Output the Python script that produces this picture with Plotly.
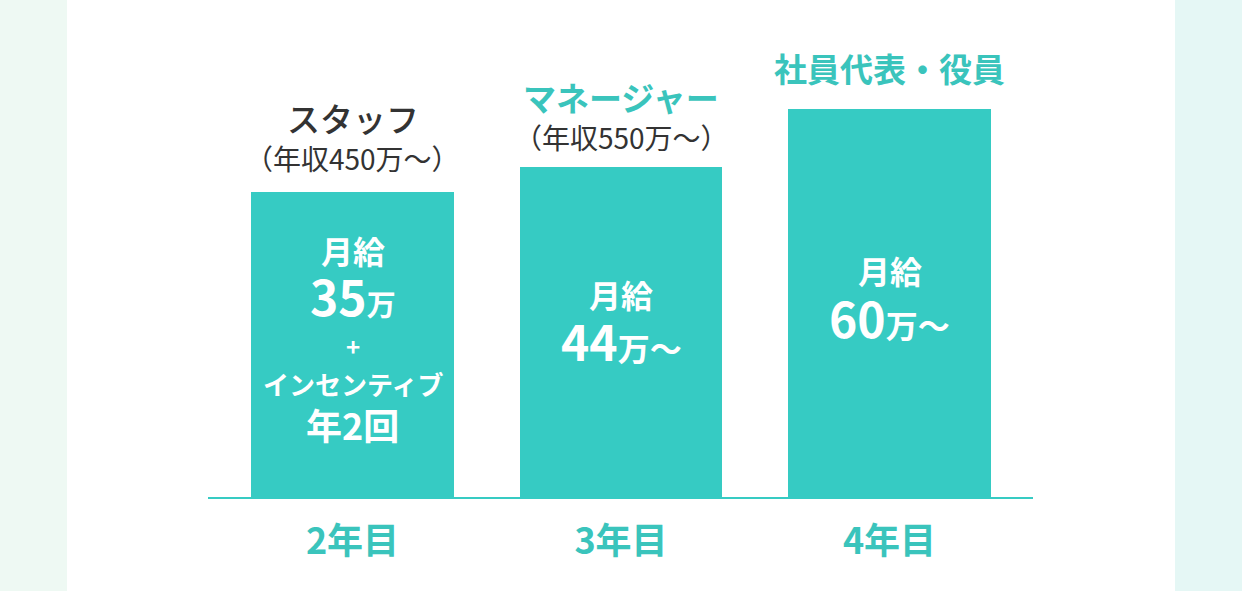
import plotly.graph_objects as go

# ---- data ----
categories = ["2年目", "3年目", "4年目"]
bar_heights = [305, 330, 388]          # relative bar height (px-scaled units)
roles = ["スタッフ", "マネージャー", "社員代表・役員"]
annual = ["（年収450万〜）", "（年収550万〜）", ""]
salary_num = ["35", "44", "60"]
salary_suffix = ["万", "万〜", "万〜"]
extra_lines = ["+", "インセンティブ", "年2回"]

TEAL = "#36CBC3"
TEAL_TXT = "#3AC4BC"
DARK = "#333333"
FONT = "Noto Sans CJK JP"
WHITE = "white"

W, H = 1242, 591
L, R, B, T = 208, 209, 94, 0

fig = go.Figure()
fig.add_trace(go.Bar(
    x=list(range(len(categories))), y=bar_heights,
    marker=dict(color=TEAL, line=dict(width=0)),
    width=0.756, hoverinfo="skip",
))


def sp(t, size):
    return f"<span style='font-size:{size}px'>{t}</span>"


def label(x, y, text, size, color, weight="bold"):
    return dict(x=x, y=y, text=text, showarrow=False,
                font=dict(family=FONT, size=size, color=color, weight=weight),
                xanchor="center", yanchor="middle")


ann = []
role_colors = [DARK, TEAL_TXT, TEAL_TXT]
role_weight = [500, "bold", "bold"]
role_off = [74, 70, 41]
sub_off = [34, 30, 0]
for i, h in enumerate(bar_heights):
    ann.append(label(i, h + role_off[i], roles[i], 33, role_colors[i], role_weight[i]))
    if annual[i]:
        ann.append(label(i, h + sub_off[i], annual[i], 28, DARK, "normal"))

# inside text: offsets below bar top
gekkyu_off = [58, 127, 161]
num_off = [103, 173, 208]
suffix_size = [29, 32, 32]
for i, h in enumerate(bar_heights):
    ann.append(label(i, h - gekkyu_off[i], "月給", 32, WHITE))
    ann.append(label(i, h - num_off[i],
                     sp(salary_num[i], 48) + sp(salary_suffix[i], suffix_size[i]), 48, WHITE))

extra_off = [153, 191, 232]
extra_size = [24, 26, 36]
for t, o, s in zip(extra_lines, extra_off, extra_size):
    ann.append(label(0, bar_heights[0] - o, t, s, WHITE))

pw = W - L - R
shapes = [
    dict(type="rect", xref="paper", yref="paper", x0=(0 - L) / pw, x1=(67 - L) / pw,
         y0=-B / (H - B - T), y1=1.01, fillcolor="#EEF9F3", line=dict(width=0), layer="below"),
    dict(type="rect", xref="paper", yref="paper", x0=(1175 - L) / pw, x1=(W - L) / pw,
         y0=-B / (H - B - T), y1=1.01, fillcolor="#E5F7F5", line=dict(width=0), layer="below"),
]

span = 268.5
c0 = 352.5
fig.update_layout(
    width=W, height=H, margin=dict(l=L, r=R, t=T, b=B, pad=0),
    paper_bgcolor="white", plot_bgcolor="rgba(0,0,0,0)",
    showlegend=False, bargap=0,
    annotations=ann, shapes=shapes,
    xaxis=dict(
        range=[(L - c0) / span, (W - R - c0) / span],
        tickmode="array", tickvals=list(range(len(categories))), ticktext=categories,
        tickfont=dict(family=FONT, size=36, color=TEAL_TXT, weight="bold"),
        ticks="outside", ticklen=12, tickcolor="rgba(0,0,0,0)",
        showline=True, linecolor=TEAL, linewidth=2,
        showgrid=False, zeroline=False, fixedrange=True,
    ),
    yaxis=dict(range=[0, H - B - T], visible=False, showgrid=False, fixedrange=True),
)

fig.write_html("out.html", config={"displayModeBar": False})
